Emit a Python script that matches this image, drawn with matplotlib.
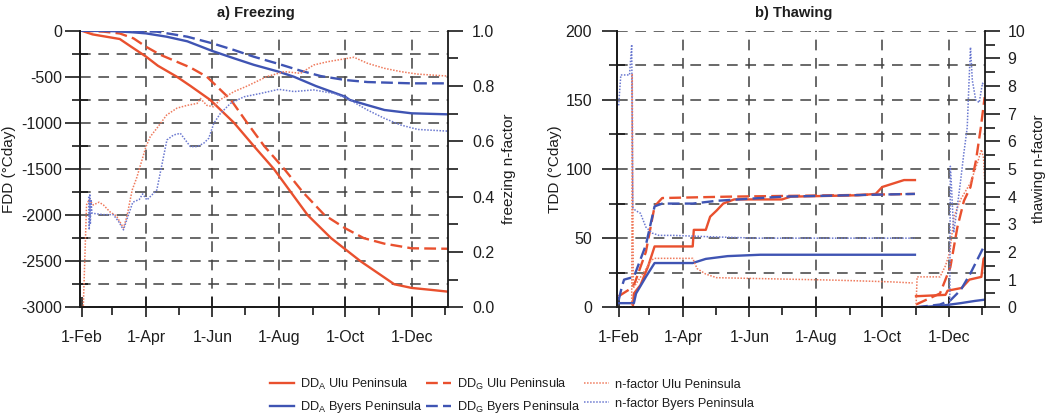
import numpy as np
import matplotlib
matplotlib.use("Agg")
import matplotlib.pyplot as plt
from matplotlib.lines import Line2D
from matplotlib.ticker import MultipleLocator, FixedLocator, FormatStrFormatter

plt.rcParams['font.family'] = ['Liberation Sans', 'DejaVu Sans']
plt.rcParams['mathtext.fontset'] = 'custom'
plt.rcParams['mathtext.rm'] = 'Liberation Sans'
plt.rcParams['mathtext.default'] = 'regular'
plt.rcParams['axes.unicode_minus'] = False

# x values are days since 1-Feb
month_days = [0, 59, 120, 181, 242, 303]
month_labels = ['1-Feb', '1-Apr', '1-Jun', '1-Aug', '1-Oct', '1-Dec']
minor_days = [28, 89, 150, 212, 273, 334]

# === a) Freezing === #
fa_ulu_d = [0, 10, 20, 35, 45, 59, 70, 87.5, 100, 118, 140, 158, 176.5, 192, 207.5, 229, 256, 287, 303, 320, 336]
fa_ulu_v = [0, -40, -60, -90, -170, -280, -380, -500, -600, -750, -1000, -1250, -1500, -1750, -2000, -2250,
            -2500, -2750, -2790, -2810, -2830]
fg_ulu_d = [0, 20, 35, 47.6, 59, 72, 90, 100, 115, 137, 152, 167.5, 186, 203, 223, 242, 259, 278, 303, 336]
fg_ulu_v = [0, -10, -30, -83, -173, -260, -350, -400, -500, -750, -1000, -1250, -1500, -1750, -2000, -2143,
            -2250, -2310, -2360, -2365]
fa_byers_d = [0, 30, 47.6, 59, 78, 97, 120, 140, 158, 181, 195, 215, 242, 246, 262, 278, 303, 336]
fa_byers_v = [0, -5, -18, -29, -65, -115, -220, -300, -370, -445, -500, -600, -716, -750, -806, -860, -896, -907]
fg_byers_d = [0, 40, 69, 97, 120, 140, 158, 181, 201, 219.5, 242, 262.5, 303, 336]
fg_byers_v = [0, -2, -10, -65, -137, -210, -282, -361, -434, -492, -535, -557, -571, -571]

fn_ulu_d = [0, 1.5, 4.5, 7, 10.7, 16, 20, 26, 32, 38.4, 41.4, 46.4, 50.7, 53.7, 59, 63, 69, 78, 87.5, 96.7,
            106, 109, 115, 121, 127, 140, 152, 170, 186, 201, 213, 226, 244, 250, 262.5, 278, 293, 308.6, 336]
fn_ulu_v = [0, 0.0, 0.37, 0.39, 0.37, 0.38, 0.37, 0.345, 0.33, 0.287, 0.326, 0.424, 0.47, 0.51, 0.58, 0.617,
            0.647, 0.695, 0.72, 0.73, 0.737, 0.755, 0.73, 0.725, 0.75, 0.78, 0.80, 0.834, 0.852, 0.846, 0.876,
            0.888, 0.90, 0.904, 0.882, 0.864, 0.852, 0.843, 0.836]
fn_byers_d = [6.5, 7, 7.5, 8, 8.5, 9.5, 20, 29, 34, 38.4, 41.4, 47, 53, 56, 59.9, 69, 75.2, 78.3, 84.4, 90.6,
              95.2, 99.8, 106, 112, 116.7, 121.3, 127.4, 136.6, 149, 164, 181, 195, 213, 232, 244, 262.5,
              278, 293, 308.6, 336]
fn_byers_v = [0.40, 0.28, 0.41, 0.30, 0.39, 0.34, 0.335, 0.335, 0.31, 0.28, 0.316, 0.38, 0.39, 0.41, 0.388,
              0.424, 0.545, 0.605, 0.623, 0.629, 0.605, 0.581, 0.581, 0.593, 0.611, 0.665, 0.701, 0.737,
              0.761, 0.773, 0.788, 0.78, 0.786, 0.773, 0.755, 0.713, 0.683, 0.659, 0.643, 0.637]

# === b) Thawing === #  (NaN splits the two seasons)
ta_ulu_d = [0, 13, 14, 20, 27, 33, 68, 69, 80, 84, 90, 96, 106, 150, 158, 220, 236, 242, 262, 272,
            np.nan, 273, 300, 302, 315, 322, 333, 335, 336]
ta_ulu_v = [0, 0, 10, 16, 29.5, 44, 44, 56, 56, 65.5, 70, 75, 78, 78, 80, 81, 82, 87, 92, 92,
            np.nan, 8, 9, 12, 14, 20, 22, 35, 36]
tg_ulu_d = [0, 12, 15, 25, 33, 40, 100, 200, 272, np.nan, 273, 295, 304.5, 311, 317, 323, 328, 332.5, 336]
tg_ulu_v = [8, 14, 18, 40, 73, 79, 80, 81, 82, np.nan, 2, 10, 29, 58, 77, 87, 106, 130, 152]
ta_byers_d = [0, 14, 16, 25, 33, 68, 80, 100, 130, 272, np.nan, 273, 295, 314, 327, 336]
ta_byers_v = [3, 3, 10, 22, 32, 32, 35, 37, 38, 38, np.nan, 0, 1, 3, 4.6, 5.5]
tg_byers_d = [0, 3, 5, 14, 25, 33, 40, 68, 90, 150, 272, np.nan, 273, 295, 304.5, 314, 323, 336]
tg_byers_v = [5, 15, 20, 22, 45, 73, 75, 75, 77, 80, 82, np.nan, 0, 2, 5, 12.5, 24.6, 45]

tn_ulu_d = [0, 12, 12.5, 13.5, 22, 30, 33, 68, 72, 80, 90, 140, 200, 250, 270,
            np.nan, 273, 274, 295, 300, 304, 308, 314, 323, 330, 333, 335, 336]
tn_ulu_v = [0, 0, 8.45, 0.7, 1.2, 1.7, 1.77, 1.77, 1.4, 1.2, 1.07, 1.03, 0.98, 0.92, 0.88,
            np.nan, 0, 1.1, 1.1, 1.5, 2.0, 3.3, 3.9, 4.5, 5.3, 5.7, 5.4, 4.6]
tn_byers_d = [0, 2, 10, 12, 13, 15.5, 20, 25, 31, 37, 50, 84, 127, 272,
              np.nan, 304, 304.5, 305.5, 307.6, 310.8, 314, 317, 320, 321.6, 323, 324.7, 327.8, 331, 334, 336]
tn_byers_v = [7.3, 8.4, 8.4, 9.5, 3.6, 3.5, 3.4, 2.9, 2.68, 2.6, 2.6, 2.55, 2.5, 2.5,
              np.nan, 0, 5.1, 4.4, 2.7, 3.6, 4.6, 5.6, 6.5, 8.1, 9.4, 8.2, 7.5, 7.4, 8.1, 8.0]

RED = '#e9502e'
BLUE = '#3f54b3'
RED_N = '#ef7a5c'
BLUE_N = '#6a78d0'
GRID = '#404040'
TXT = '#1e1e1e'

dd_lw = 1.7
dash = (0, (5, 2.2))
dot = (0, (1, 1))

fig = plt.figure(figsize=(10.51, 4.18), dpi=100)
W, H = 1051, 418
axa = fig.add_axes([80 / W, 1 - 307.3 / H, 368.3 / W, 276.6 / H])
axb = fig.add_axes([617 / W, 1 - 307.3 / H, 368.3 / W, 276.6 / H])


def style_axes(ax, twin, ymaj, ymin, tmaj, tmin, lpad, rpad):
    ax.set_xlim(-1.5, 336.6)
    ax.xaxis.set_major_locator(FixedLocator(month_days))
    ax.xaxis.set_minor_locator(FixedLocator(minor_days))
    ax.set_xticklabels(month_labels)
    ax.yaxis.set_major_locator(MultipleLocator(ymaj))
    ax.yaxis.set_minor_locator(MultipleLocator(ymin))
    twin.yaxis.set_major_locator(MultipleLocator(tmaj))
    twin.yaxis.set_minor_locator(MultipleLocator(tmin))
    for a in (ax, twin):
        a.spines['top'].set_visible(False)
        for s in ('left', 'right', 'bottom'):
            a.spines[s].set_linewidth(1.3)
            a.spines[s].set_color('#1a1a1a')
    ax.spines['right'].set_visible(False)
    ax.tick_params(axis='x', which='major', direction='inout', length=15, width=1.2, pad=9,
                   labelsize=11.5, colors='#1a1a1a', labelcolor=TXT)
    ax.tick_params(axis='x', which='minor', direction='out', length=6, width=1.2, colors='#1a1a1a')
    ax.tick_params(axis='y', which='major', direction='out', length=11, width=1.2, pad=lpad,
                   labelsize=11.5, colors='#1a1a1a', labelcolor=TXT)
    ax.tick_params(axis='y', which='minor', direction='inout', length=12, width=1.2, colors='#1a1a1a')
    twin.tick_params(axis='y', which='major', direction='out', length=11, width=1.2, pad=rpad,
                     labelsize=11.5, colors='#1a1a1a', labelcolor=TXT)
    twin.tick_params(axis='y', which='minor', direction='out', length=7, width=1.2, colors='#1a1a1a')
    # dashed grid: every minor y step, major months in x
    for yv in np.arange(ax.get_ylim()[0], ax.get_ylim()[1] + 0.1 * ymin, ymin):
        ax.axhline(yv, color=GRID, lw=1.1, dashes=(7, 5), zorder=0)
    for xv in month_days[1:]:
        ax.axvline(xv, color=GRID, lw=1.1, dashes=(7, 5), zorder=0)


# panel a
axa.set_ylim(-3000, 0)
twa = axa.twinx()
twa.set_ylim(0, 1.0)
style_axes(axa, twa, 500, 250, 0.2, 0.1, 2, 6)
twa.yaxis.set_major_formatter(FormatStrFormatter('%.1f'))
axa.plot(fa_ulu_d, fa_ulu_v, color=RED, lw=dd_lw)
axa.plot(fg_ulu_d, fg_ulu_v, color=RED, lw=dd_lw, linestyle=dash)
axa.plot(fa_byers_d, fa_byers_v, color=BLUE, lw=dd_lw)
axa.plot(fg_byers_d, fg_byers_v, color=BLUE, lw=dd_lw, linestyle=dash)
twa.plot(fn_ulu_d, fn_ulu_v, color=RED_N, lw=1.1, linestyle=dot)
twa.plot(fn_byers_d, fn_byers_v, color=BLUE_N, lw=1.1, linestyle=dot)
axa.set_title('a) Freezing', fontsize=10.6, fontweight='bold', color=TXT, x=0.478, y=1.02)

# panel b
axb.set_ylim(0, 200)
twb = axb.twinx()
twb.set_ylim(0, 10)
style_axes(axb, twb, 50, 25, 1, 0.5, 7, 5)
axb.plot(ta_ulu_d, ta_ulu_v, color=RED, lw=dd_lw)
axb.plot(tg_ulu_d, tg_ulu_v, color=RED, lw=dd_lw, linestyle=dash)
axb.plot(ta_byers_d, ta_byers_v, color=BLUE, lw=dd_lw)
axb.plot(tg_byers_d, tg_byers_v, color=BLUE, lw=dd_lw, linestyle=dash)
twb.plot(tn_ulu_d, tn_ulu_v, color=RED_N, lw=1.1, linestyle=dot)
twb.plot(tn_byers_d, tn_byers_v, color=BLUE_N, lw=1.1, linestyle=dot)
axb.set_title('b) Thawing', fontsize=10.6, fontweight='bold', color=TXT, x=0.481, y=1.02)

# axis labels placed by their centres (figure pixels)
yc = 1 - 169 / H
for xpx, txt in [(9, 'FDD (°Cday)'), (509, 'freezing n-factor'),
                 (555, 'TDD (°Cday)'), (1039, 'thawing n-factor')]:
    fig.text(xpx / W, yc, txt, rotation=90, ha='center', va='center', fontsize=11, color=TXT)

# legend (column-wise fill -> Ulu on top row)
handles = [
    Line2D([], [], color=RED, lw=dd_lw),
    Line2D([], [], color=BLUE, lw=dd_lw),
    Line2D([], [], color=RED, lw=dd_lw, linestyle=dash),
    Line2D([], [], color=BLUE, lw=dd_lw, linestyle=dash),
    Line2D([], [], color=RED_N, lw=1.1, linestyle=dot),
    Line2D([], [], color=BLUE_N, lw=1.1, linestyle=dot),
]
labels = ['DD$_A$ Ulu Peninsula', 'DD$_A$ Byers Peninsula',
          'DD$_G$ Ulu Peninsula', 'DD$_G$ Byers Peninsula',
          'n-factor Ulu Peninsula', 'n-factor Byers Peninsula']
leg = fig.legend(handles, labels, loc='center left', bbox_to_anchor=(258 / W, 1 - 396 / H), ncol=3,
                 frameon=False, fontsize=9.2, handlelength=1.9, columnspacing=0.3, labelspacing=0.55,
                 handletextpad=0.5)
for t in leg.get_texts():
    t.set_color(TXT)

fig.savefig('out.png', dpi=100)
